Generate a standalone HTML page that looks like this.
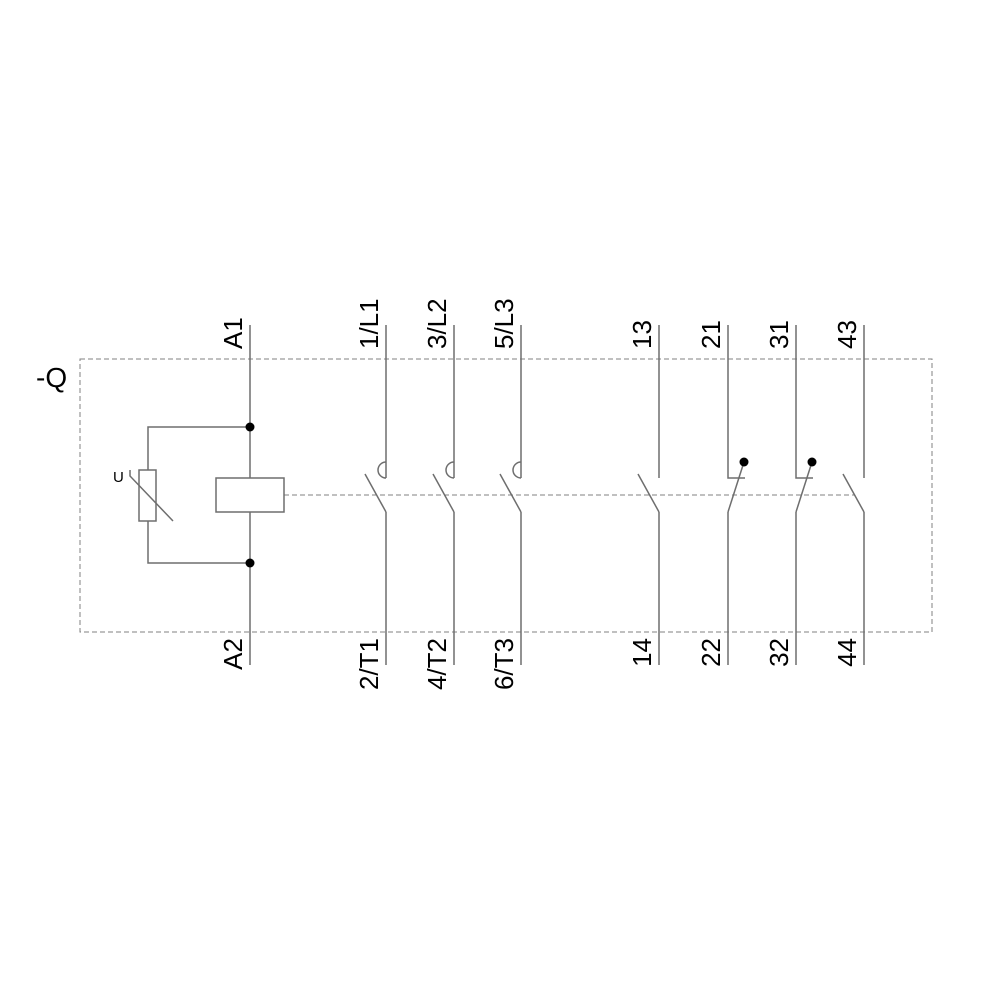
<!DOCTYPE html>
<html><head><meta charset="utf-8"><style>html,body{margin:0;padding:0;background:#fff}</style></head>
<body>
<svg width="1000" height="1000" viewBox="0 0 1000 1000" xmlns="http://www.w3.org/2000/svg" font-family="Liberation Sans, Arial, sans-serif">
<g fill="none" stroke="#808080" stroke-width="1.5">
<rect x="80" y="359" width="852" height="273" stroke-dasharray="5,3" stroke-width="1"/>
<line x1="284" y1="495" x2="855" y2="495" stroke-dasharray="5,3" stroke-width="1"/>
</g>
<g fill="none" stroke="#6e6e6e" stroke-width="1.5">
<line x1="250" y1="325" x2="250" y2="478"/>
<line x1="250" y1="512" x2="250" y2="665"/>
<rect x="216" y="478" width="68" height="34"/>
<polyline points="250,427 148,427 148,470"/>
<polyline points="250,563 148,563 148,521"/>
<rect x="139" y="470" width="17" height="51"/>
<polyline points="130,470 130,476 173,521"/>
<g id="m">
<line x1="386" y1="325" x2="386" y2="478"/>
<path d="M386,462 A8,8 0 0 0 386,478"/>
<line x1="365" y1="474" x2="386" y2="512"/>
<line x1="386" y1="512" x2="386" y2="665"/>
</g>
<use href="#m" x="68"/>
<use href="#m" x="135"/>
<g id="no">
<line x1="659" y1="325" x2="659" y2="478"/>
<line x1="638" y1="474" x2="659" y2="512"/>
<line x1="659" y1="512" x2="659" y2="665"/>
</g>
<use href="#no" x="205"/>
<g id="nc">
<polyline points="728,325 728,478 745,478"/>
<line x1="728" y1="512" x2="744" y2="462"/>
<line x1="728" y1="512" x2="728" y2="665"/>
</g>
<use href="#nc" x="68"/>
</g>
<g fill="#000">
<circle cx="250" cy="427" r="4.5"/>
<circle cx="250" cy="563" r="4.5"/>
<circle cx="744" cy="462" r="4.5"/>
<circle cx="812" cy="462" r="4.5"/>
</g>
<g font-size="26" fill="#000">
<text x="36" y="387" font-size="28">-Q</text>
<text transform="translate(242,349) rotate(-90)">A1</text>
<text transform="translate(378,349) rotate(-90)">1/L1</text>
<text transform="translate(446,349) rotate(-90)">3/L2</text>
<text transform="translate(513,349) rotate(-90)">5/L3</text>
<text transform="translate(651,349) rotate(-90)">13</text>
<text transform="translate(720,349) rotate(-90)">21</text>
<text transform="translate(788,349) rotate(-90)">31</text>
<text transform="translate(856,349) rotate(-90)">43</text>
<g text-anchor="end">
<text transform="translate(242,638) rotate(-90)">A2</text>
<text transform="translate(378,638) rotate(-90)">2/T1</text>
<text transform="translate(446,638) rotate(-90)">4/T2</text>
<text transform="translate(513,638) rotate(-90)">6/T3</text>
<text transform="translate(651,638) rotate(-90)">14</text>
<text transform="translate(720,638) rotate(-90)">22</text>
<text transform="translate(788,638) rotate(-90)">32</text>
<text transform="translate(856,638) rotate(-90)">44</text>
</g>
<text x="113" y="482" font-size="15">U</text>
</g>
</svg>
</body></html>
